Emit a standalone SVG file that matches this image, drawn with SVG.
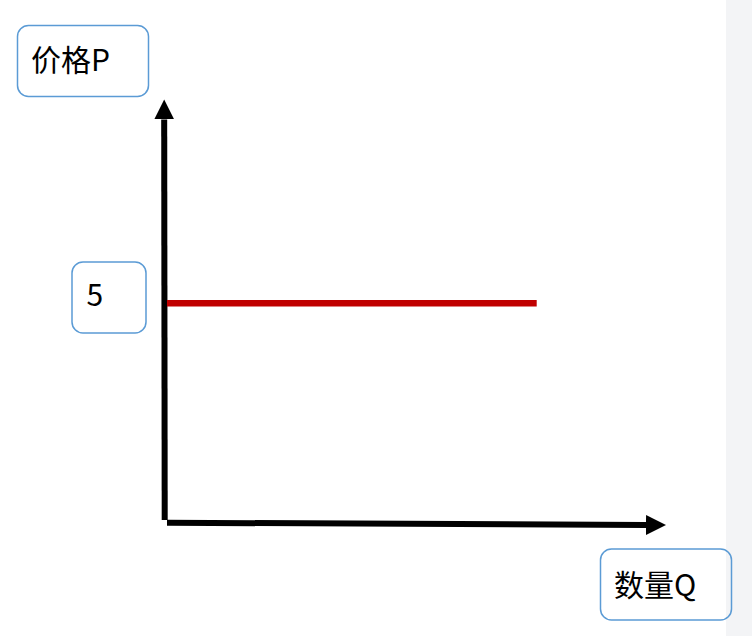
<svg xmlns="http://www.w3.org/2000/svg" width="752" height="636" viewBox="0 0 752 636">
<style>
.box{fill:none;stroke:#5b9bd5;stroke-width:1.5}
.lbl{font-family:"Noto Sans CJK SC","Noto Sans",sans-serif;font-size:30px;fill:#000}
.axis{fill:none;stroke:#000;stroke-width:6}
</style>
<defs>
<marker id="arr" viewBox="0 0 20 20" refX="0" refY="10" markerWidth="20" markerHeight="20" markerUnits="userSpaceOnUse" orient="auto">
<path d="M0,0 L20,10 L0,20 z" fill="#000"/>
</marker>
</defs>
<rect x="0" y="0" width="752" height="636" fill="#fff"/>
<rect x="726" y="0" width="26" height="636" fill="#f3f4f6"/>
<g id="connectors">
<path class="axis" d="M164.7,520 L164.2,119.5" marker-end="url(#arr)"/>
<path class="axis" d="M167,522.7 L646,525" marker-end="url(#arr)"/>
<path d="M167,303.3 L536.7,303.3" fill="none" stroke="#c00000" stroke-width="6.5"/>
</g>
<g id="node-price">
<rect class="box" x="17.5" y="25.5" width="131" height="71" rx="11"/>
<text class="lbl" x="31" y="71">价格P</text>
</g>
<g id="node-five">
<rect class="box" x="72" y="262" width="74" height="71" rx="11"/>
<text class="lbl" x="86.5" y="306">5</text>
</g>
<g id="node-quantity">
<rect class="box" x="600.5" y="549" width="131" height="71" rx="11"/>
<text class="lbl" x="614" y="596">数量Q</text>
</g>
</svg>
